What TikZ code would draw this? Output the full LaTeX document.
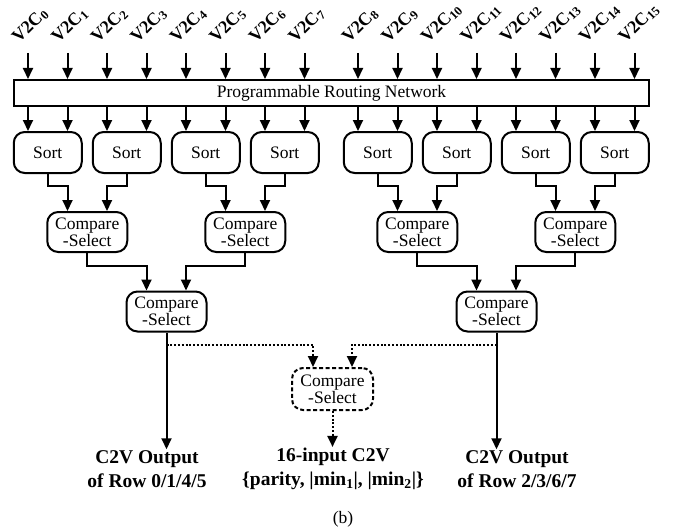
\documentclass[tikz,border=0pt]{standalone}
\usepackage{fontspec}
\setmainfont{Liberation Serif}
\usetikzlibrary{arrows.meta, positioning, calc}

\begin{document}
\begin{tikzpicture}[x=1pt, y=1pt,
          box/.style={draw, line width=2pt, rounded corners=11pt, fill=white,
                      font=\fontsize{17.5}{17}\selectfont, align=center, inner sep=0pt},
          sortbox/.style={box, minimum width=68pt, minimum height=41pt},
          csbox/.style={box, minimum width=80pt, minimum height=40pt},
          vlab/.style={font=\bfseries\fontsize{18}{18}\selectfont, rotate=45,
                       anchor=west, inner sep=0pt},
          outlab/.style={font=\bfseries\fontsize{19.5}{24}\selectfont,
                         align=center, inner sep=1pt},
          arr/.style={-{Triangle[length=11pt, width=10pt]}, line width=2pt},
          dotarr/.style={arr, dash pattern=on 2pt off 1.8pt}
        ]
        \useasboundingbox (0,0) rectangle (688,-527);

        \node[draw, line width=2pt, minimum width=635pt, minimum height=26pt,
              inner sep=0pt, font=\fontsize{17.5}{17}\selectfont]
              (rn) at (331.5,-93) {Programmable Routing Network};

        % Sorters
        \foreach \n/\x in {1/47.75, 2/126.75, 3/205.75, 4/284.75,
                           5/377.75, 6/456.75, 7/535.75, 8/614.75}
          \node[sortbox] (s\n) at (\x,-152.5) {Sort};

        % Inputs
        \foreach \i/\x/\s in {0/28/1, 1/67.5/1, 2/107/2, 3/146.5/2,
                              4/186/3, 5/225.5/3, 6/265/4, 7/304.5/4,
                              8/358/5, 9/397.5/5, 10/437/6, 11/476.5/6,
                              12/516/7, 13/555.5/7, 14/595/8, 15/634.5/8} {
          \coordinate (v\i) at (\x,-53);
          \node[vlab] (l\i) at ($(v\i)+(-12.5,12.5)$) {V2C\textsubscript{\i}};
          \draw[arr] (v\i) -- (v\i |- rn.north);
          \draw[arr] (v\i |- rn.south) -- (v\i |- s\s.north);
        }

        % Compare-select tree
        \node[csbox] (c1) at (87.25,-232)  {Compare\\-Select};
        \node[csbox] (c2) at (245.25,-232) {Compare\\-Select};
        \node[csbox] (c3) at (417.25,-232) {Compare\\-Select};
        \node[csbox] (c4) at (575.25,-232) {Compare\\-Select};
        \node[csbox] (c5) at (166.5,-311.5) {Compare\\-Select};
        \node[csbox] (c6) at (496.5,-311.5) {Compare\\-Select};
        \node[csbox, dash pattern=on 4pt off 2.5pt, minimum width=81pt,
              minimum height=42pt] (cm) at (332.5,-389) {Compare\\-Select};

        \draw[arr] (s1.south) -- ++(0,-12) -| (v1 |- c1.north);
        \draw[arr] (s2.south) -- ++(0,-12) -| (v2 |- c1.north);
        \draw[arr] (s3.south) -- ++(0,-12) -| (v5 |- c2.north);
        \draw[arr] (s4.south) -- ++(0,-12) -| (v6 |- c2.north);
        \draw[arr] (s5.south) -- ++(0,-12) -| (v9 |- c3.north);
        \draw[arr] (s6.south) -- ++(0,-12) -| (v10 |- c3.north);
        \draw[arr] (s7.south) -- ++(0,-12) -| (v13 |- c4.north);
        \draw[arr] (s8.south) -- ++(0,-12) -| (v14 |- c4.north);

        \draw[arr] (c1.south) -- ++(0,-13) -| (v3 |- c5.north);
        \draw[arr] (c2.south) -- ++(0,-13) -| (v4 |- c5.north);
        \draw[arr] (c3.south) -- ++(0,-13) -| (v11 |- c6.north);
        \draw[arr] (c4.south) -- ++(0,-13) -| (v12 |- c6.north);

        % Outputs
        \node[outlab] (o1) at (147,-469) {C2V Output\\of Row 0/1/4/5};
        \node[outlab] (om) at (333,-469)
              {16-input C2V\\\{parity, |min\textsubscript{1}|, |min\textsubscript{2}|\}};
        \node[outlab] (o2) at (517,-469) {C2V Output\\of Row 2/3/6/7};
        \node[font=\fontsize{17.5}{17}\selectfont] (cap) at (343,-519) {(b)};

        \draw[arr] (c5.south) -- (c5.south |- o1.north);
        \draw[arr] (c6.south) -- (c6.south |- o2.north);
        \draw[dotarr] ($(c5.south)+(0,-12)$) -| ($(cm.north)+(-19.5,0)$);
        \draw[dotarr] ($(c6.south)+(0,-12)$) -| ($(cm.north)+(19.5,0)$);
        \draw[dotarr] (cm.south) -- (cm.south |- om.north);
      \end{tikzpicture}
\end{document}
